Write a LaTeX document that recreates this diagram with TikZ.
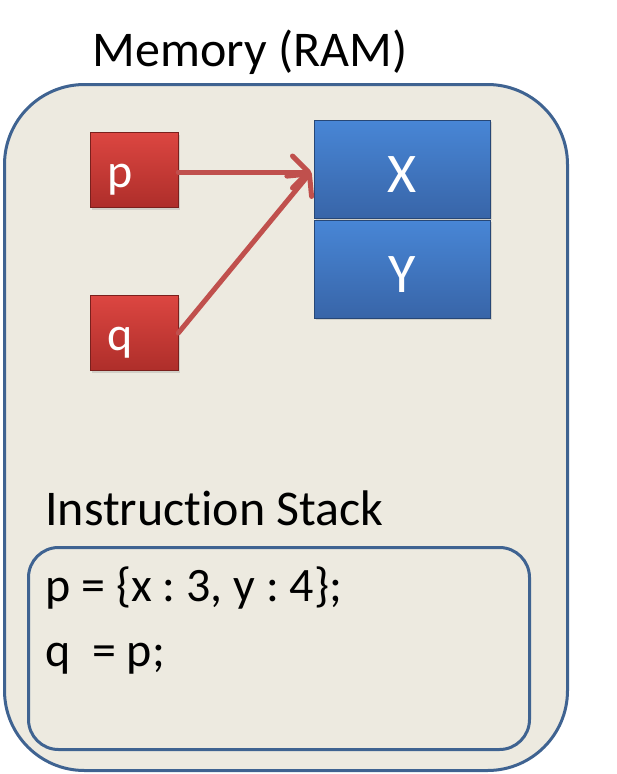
\documentclass[tikz,border=0pt]{standalone}
\usepackage{fontspec}
\setmainfont[Ligatures=NoCommon]{Carlito}
\frenchspacing
\usetikzlibrary{arrows.meta,shadows}
\definecolor{bgfill}{HTML}{EDEAE0}
\definecolor{frame}{HTML}{3F6391}
\definecolor{redtop}{HTML}{DC4641}
\definecolor{redbot}{HTML}{AE2E2A}
\definecolor{bluetop}{HTML}{4886D6}
\definecolor{bluebot}{HTML}{3865A8}
\definecolor{arrowc}{HTML}{C0504D}
\tikzset{
  redbox/.style={draw=redbot!70!black, line width=0.6pt, top color=redtop, bottom color=redbot,
    minimum width=88pt, minimum height=75pt, inner xsep=17pt, inner ysep=0pt, text width=54pt, align=left, text=white,
    text height=50pt, text depth=16pt,
    font=\fontsize{48}{50}\selectfont, drop shadow={opacity=0.25, shadow xshift=2pt, shadow yshift=-2pt}},
  bluebox/.style={draw=bluebot!70!black, line width=0.6pt, top color=bluetop, bottom color=bluebot,
    minimum width=176pt, minimum height=98pt, inner sep=0pt, text=white, text height=46pt, text depth=0pt,
    font=\fontsize{56}{60}\selectfont, drop shadow={opacity=0.25, shadow xshift=2pt, shadow yshift=-2pt}},
  ptr/.style={draw=arrowc, line width=5pt, line cap=round,
    -{Straight Barb[length=16pt, width=32pt, line width=5pt, round]}},
  lbl/.style={anchor=base west, inner sep=0pt, font=\fontsize{50}{56}\selectfont},
  code/.style={anchor=base west, inner sep=0pt, font=\fontsize{48}{56}\selectfont},
}
\begin{document}
\begin{tikzpicture}[x=1pt,y=-1pt]
\useasboundingbox (0,0) rectangle (617,774);
\fill[white] (0,0) rectangle (617,774);
\node[draw=frame, line width=3pt, fill=bgfill, rounded corners=80pt, minimum width=563pt, minimum height=686pt, anchor=north west] (mem) at (3,83) {};
\node[anchor=base, inner sep=0pt, font=\fontsize{50}{56}\selectfont] (title) at (250,66) {Memory (RAM)};
\node[bluebox] (x) at (402,169) {X};
\node[bluebox] (y) at (402,269) {Y};
\node[redbox] (p) at (134,170) {p};
\node[redbox] (q) at (134,333) {q};
\coordinate (tip) at (311,172);
\draw[ptr] (p.east |- tip) -- (tip);
\draw[ptr] (q.east) -- (tip);
\node[lbl] (stack) at (45,525) {Instruction Stack};
\node[draw=frame, line width=3pt, fill=bgfill, rounded corners=30pt, minimum width=501pt, minimum height=202pt, anchor=north west] (instr) at (27,546) {};
\node[code] (l1) at (45,601) {p = \{x : 3, y : 4\};};
\node[code] (l2) at (45,666) {q\ \ = p;};
\end{tikzpicture}
\end{document}
